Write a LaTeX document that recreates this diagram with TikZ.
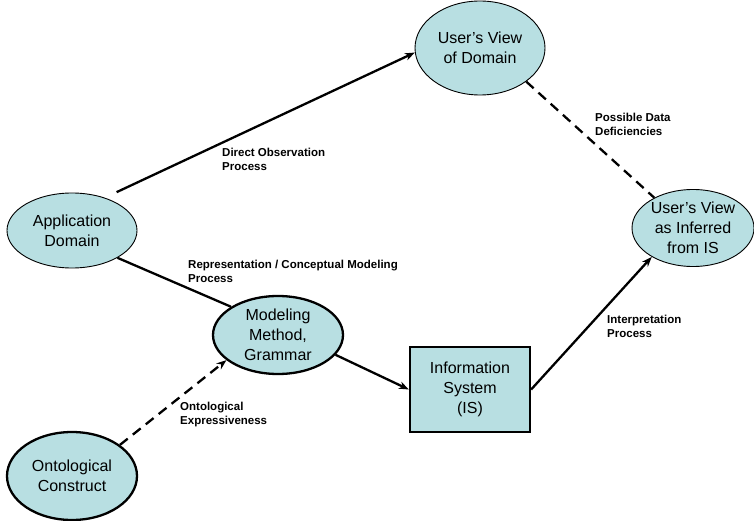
\documentclass[tikz,border=0pt]{standalone}
\usepackage{fontspec}
\setmainfont{Liberation Sans}
\usetikzlibrary{shapes.geometric,arrows.meta}
\definecolor{bubble}{RGB}{184,223,226}
\begin{document}
\begin{tikzpicture}[x=1pt,y=-1pt,
  concept/.style={ellipse,draw=black,fill=bubble,inner sep=0pt,align=center,
    font=\fontsize{16}{20}\selectfont},
  thinrim/.style={line width=0.9pt},
  thickrim/.style={line width=2.3pt},
  sysbox/.style={rectangle,draw=black,fill=bubble,line width=2.3pt,align=center,
    minimum width=120pt,minimum height=85pt,inner sep=0pt,
    font=\fontsize{16}{20}\selectfont},
  flow/.style={line width=2.3pt,-{Stealth[length=10pt,width=7.5pt]}},
  link/.style={line width=2.3pt},
  weak/.style={line width=2.3pt,dash pattern=on 10pt off 6.5pt},
  tag/.style={anchor=north west,inner sep=0pt,align=left,
    font=\fontsize{11.5}{13.5}\selectfont\bfseries}]
\useasboundingbox (0,0) rectangle (754,521);

% concepts
\node[concept,thinrim,minimum width=130pt,minimum height=94pt] (uvd) at (480,48) {User's View\\of Domain};
\node[concept,thinrim,minimum width=122pt,minimum height=77pt] (uvi) at (693,228) {User's View\\as Inferred\\from IS};
\node[concept,thinrim,minimum width=130pt,minimum height=75pt] (app) at (72,230.5) {Application\\Domain};
\node[concept,thickrim,minimum width=130pt,minimum height=78pt] (mm) at (278,335) {Modeling\\Method,\\Grammar};
\node[concept,thickrim,minimum width=130pt,minimum height=88pt] (ont) at (72,476) {Ontological\\Construct};
\node[sysbox] (is) at (470,389.5) {Information\\System\\(IS)};

% connectors
\draw[flow,shorten <=13pt] (app.45) -- (uvd.184);
\draw[link] (app.-31) -- (mm.149);
\draw[flow] (mm.-19) -- (is.west);
\draw[flow] (is.east) -- (uvi.215);
\draw[weak,-{Stealth[length=10pt,width=7.5pt]}] (ont.33) -- (mm.206);
\draw[weak] (uvd.-36) -- (uvi.142);

% connector labels
\node[tag] (l1) at (222,148) {Direct Observation\\Process};
\node[tag] (l2) at (595,113) {Possible Data\\Deficiencies};
\node[tag] (l3) at (188,260) {Representation / Conceptual Modeling\\Process};
\node[tag] (l4) at (607,315) {Interpretation\\Process};
\node[tag] (l5) at (180,402) {Ontological\\Expressiveness};
\end{tikzpicture}
\end{document}
